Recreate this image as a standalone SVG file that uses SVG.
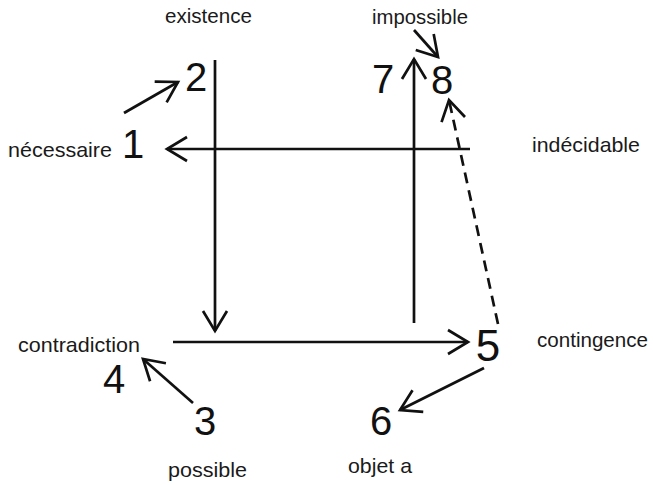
<svg xmlns="http://www.w3.org/2000/svg" width="653" height="485" viewBox="0 0 653 485">
<style>
.lbl{font-family:"Liberation Sans",Arial,sans-serif;font-size:21px;fill:#1a1a1a}
.num{font-family:"Liberation Sans",Arial,sans-serif;font-size:40px;fill:#111;text-anchor:middle}
.ln{stroke:#111;stroke-width:2.7;fill:none}
.dash{stroke-dasharray:11,7}
</style>
<defs>
<marker id="ah" markerUnits="userSpaceOnUse" markerWidth="30" markerHeight="30" viewBox="-22 -15 30 30" refX="0" refY="0" orient="auto">
<path d="M-20,-12 L0,0 L-20,12" stroke="#111" stroke-width="2.7" fill="none"/>
</marker>
</defs>
<rect width="653" height="485" fill="#fff"/>
<g id="connectors">
<line class="ln" x1="470" y1="149" x2="167" y2="149" marker-end="url(#ah)"/>
<line class="ln" x1="215" y1="60" x2="215" y2="331" marker-end="url(#ah)"/>
<line class="ln" x1="173" y1="342" x2="468" y2="342" marker-end="url(#ah)"/>
<line class="ln" x1="414" y1="323" x2="414" y2="59" marker-end="url(#ah)"/>
<line class="ln" x1="124" y1="113" x2="178" y2="82" marker-end="url(#ah)"/>
<line class="ln" x1="414" y1="30" x2="438" y2="57" marker-end="url(#ah)"/>
<line class="ln dash" x1="498" y1="324" x2="449" y2="100" marker-end="url(#ah)"/>
<line class="ln" x1="193" y1="403" x2="143" y2="359" marker-end="url(#ah)"/>
<line class="ln" x1="484" y1="368" x2="400" y2="410" marker-end="url(#ah)"/>
</g>
<g id="n1"><text class="num" x="133" y="158">1</text><text class="lbl" x="8" y="157" textLength="104" lengthAdjust="spacingAndGlyphs">nécessaire</text></g>
<g id="n2"><text class="num" x="196" y="91">2</text><text class="lbl" x="165" y="23" textLength="87" lengthAdjust="spacingAndGlyphs">existence</text></g>
<g id="n3"><text class="num" x="205" y="435">3</text><text class="lbl" x="168" y="477" textLength="79" lengthAdjust="spacingAndGlyphs">possible</text></g>
<g id="n4"><text class="num" x="114" y="393">4</text><text class="lbl" x="18" y="352" textLength="122" lengthAdjust="spacingAndGlyphs">contradiction</text></g>
<g id="n5"><text class="num" x="488" y="361" style="font-size:44px">5</text><text class="lbl" x="537" y="347" textLength="111" lengthAdjust="spacingAndGlyphs">contingence</text></g>
<g id="n6"><text class="num" x="381" y="435">6</text><text class="lbl" x="348" y="473" textLength="64" lengthAdjust="spacingAndGlyphs">objet a</text></g>
<g id="n7"><text class="num" x="383" y="93">7</text></g>
<g id="n8"><text class="num" x="442" y="94">8</text><text class="lbl" x="372" y="24" textLength="96" lengthAdjust="spacingAndGlyphs">impossible</text></g>
<g id="n9"><text class="lbl" x="532" y="152" textLength="108" lengthAdjust="spacingAndGlyphs">indécidable</text></g>
</svg>
